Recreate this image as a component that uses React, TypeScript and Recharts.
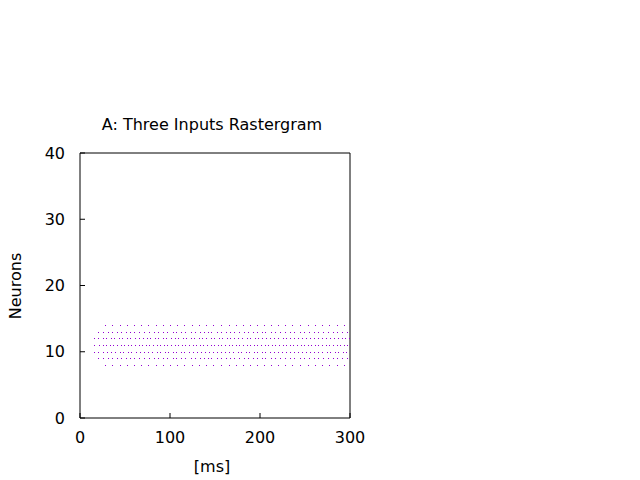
import React from 'react';
import { ScatterChart, Scatter, XAxis, YAxis, Label, ReferenceArea } from 'recharts';

// spike times (ms) per neuron
const neuron8 = [28, 36, 44, 52, 60, 68, 76, 84, 92, 100, 108, 116, 124, 132, 140, 148, 157, 165, 173, 181, 189, 197, 204, 212, 220, 228, 236, 244, 253, 261, 269, 277, 285, 293];
const neuron9 = [20, 26, 31, 36, 41, 46, 51, 56, 60, 66, 71, 77, 82, 87, 92, 97, 103, 107, 112, 117, 123, 128, 133, 138, 142, 146, 152, 157, 162, 167, 171, 177, 182, 187, 192, 197, 202, 206, 212, 217, 222, 228, 233, 238, 244, 249, 254, 260, 265, 270, 276, 281, 286, 291, 297];
const neuron10 = [15, 20, 25, 30, 34, 39, 44, 48, 53, 57, 62, 67, 71, 76, 80, 85, 89, 94, 98, 103, 107, 112, 116, 121, 125, 130, 134, 139, 143, 148, 152, 157, 161, 166, 170, 175, 179, 184, 188, 193, 197, 202, 206, 211, 215, 220, 224, 229, 233, 238, 242, 247, 251, 256, 260, 265, 269, 274, 278, 283, 287, 292, 296];
const neuron11 = [15, 21, 25, 29, 33, 37, 41, 45, 49, 53, 57, 61, 65, 69, 73, 77, 81, 85, 89, 93, 97, 101, 105, 109, 113, 117, 121, 125, 129, 133, 137, 141, 145, 149, 153, 157, 161, 165, 169, 173, 177, 181, 185, 189, 193, 197, 201, 205, 209, 213, 217, 221, 225, 229, 233, 237, 241, 245, 249, 253, 257, 261, 265, 269, 273, 277, 281, 285, 289, 293, 297];
const neuron12 = [15, 20, 25, 29, 34, 38, 43, 47, 52, 56, 61, 65, 70, 74, 78, 83, 87, 92, 96, 101, 105, 109, 114, 118, 123, 127, 132, 136, 140, 145, 149, 154, 158, 163, 167, 171, 176, 180, 185, 189, 194, 198, 202, 207, 211, 216, 220, 225, 229, 233, 238, 242, 247, 251, 256, 260, 264, 269, 273, 278, 282, 287, 291, 295, 299];
const neuron13 = [20, 26, 31, 36, 41, 46, 51, 56, 60, 66, 71, 77, 82, 87, 92, 97, 103, 107, 112, 117, 123, 128, 133, 138, 142, 146, 152, 157, 162, 167, 171, 177, 182, 187, 192, 197, 202, 206, 212, 217, 222, 228, 233, 238, 244, 249, 254, 260, 265, 270, 276, 281, 286, 291, 297];
const neuron14 = [28, 36, 44, 52, 60, 68, 76, 84, 92, 100, 108, 116, 124, 132, 140, 148, 157, 165, 173, 181, 189, 197, 204, 212, 220, 228, 236, 244, 253, 261, 269, 277, 285, 293];

const rows: [number, number[]][] = [
  [8, neuron8], [9, neuron9], [10, neuron10], [11, neuron11],
  [12, neuron12], [13, neuron13], [14, neuron14],
];

const xTicks = [0, 100, 200, 300];
const yTicks = [0, 10, 20, 30, 40];

const spikes = rows.flatMap(([n, times]) => times.map((t) => ({ t, n })));

// plot box in page pixels
const L = 80, T = 153, B = 418;
const FONT = 'DejaVu Sans, sans-serif';
const FS = 16;

const XTick = (p: any) => (
  <g>
    <line x1={p.x} x2={p.x} y1={B} y2={B - 5} stroke="#000" />
    <text x={p.x} y={B + 19} textAnchor="middle" dominantBaseline="central" fontFamily={FONT} fontSize={FS}>
      {p.payload.value}
    </text>
  </g>
);

const YTick = (p: any) => (
  <g>
    <line x1={L} x2={L + 5} y1={p.y} y2={p.y} stroke="#000" />
    <text x={L - 15} y={p.y} textAnchor="end" dominantBaseline="central" fontFamily={FONT} fontSize={FS}>
      {p.payload.value}
    </text>
  </g>
);

const Dot = (p: any) => (
  <rect x={Math.round(p.cx)} y={Math.round(p.cy)} width={1} height={1} fill="#9400d3" shapeRendering="crispEdges" />
);

export default function App() {
  return (
    <div style={{ position: 'absolute', left: 0, top: 0, background: '#fff' }}>
      <ScatterChart width={640} height={480} margin={{ top: T, right: 290, bottom: 30, left: 30 }}>
        <XAxis
          dataKey="t"
          type="number"
          domain={[0, 300]}
          ticks={xTicks}
          height={32}
          axisLine={false}
          tickLine={false}
          tick={<XTick />}
        >
          <Label
            content={() => (
              <g fontFamily={FONT} fontSize={FS}>
                <text x={212} y={466} textAnchor="middle" dominantBaseline="central">[ms]</text>
                <text x={212} y={124} textAnchor="middle" dominantBaseline="central">A: Three Inputs Rastergram</text>
              </g>
            )}
          />
        </XAxis>
        <YAxis
          dataKey="n"
          type="number"
          domain={[0, 40]}
          ticks={yTicks}
          width={50}
          axisLine={false}
          tickLine={false}
          tick={<YTick />}
        >
          <Label
            content={() => (
              <text x={15} y={286} textAnchor="middle" dominantBaseline="central" transform="rotate(-90 15 286)" fontFamily={FONT} fontSize={FS}>
                Neurons
              </text>
            )}
          />
        </YAxis>
        <ReferenceArea x1={0} x2={300} y1={0} y2={40} fill="none" stroke="#000" strokeWidth={1} ifOverflow="visible" />
        <Scatter data={spikes} shape={<Dot />} isAnimationActive={false} />
      </ScatterChart>
    </div>
  );
}
